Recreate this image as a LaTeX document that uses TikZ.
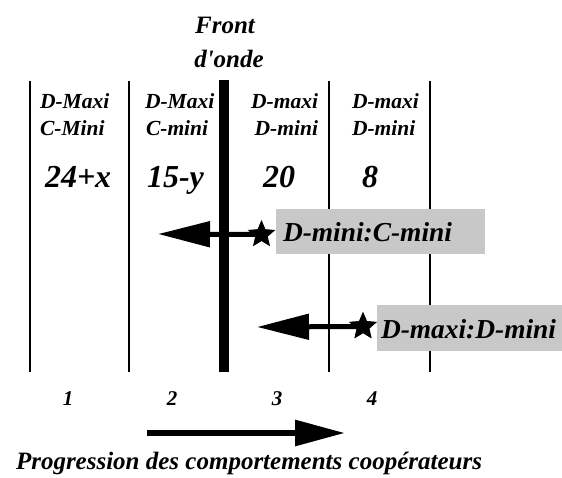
\documentclass[tikz,border=0pt]{standalone}
\usepackage{fontspec}
\setmainfont{Liberation Serif}[Ligatures=TeXOff]
\usetikzlibrary{arrows.meta,shapes.geometric}
\definecolor{boxgray}{RGB}{200,200,200}
\begin{document}
\begin{tikzpicture}[x=1pt,y=-1pt,
  every node/.style={inner sep=0pt, outer sep=0pt},
  bi/.style={font=\fontsize{#1}{#1}\selectfont\bfseries\itshape},
  hd/.style={bi=21.5},
  num/.style={bi=32},
  idx/.style={bi=21},
  ttl/.style={bi=25},
  lbl/.style={bi=27.4},
  sepline/.style={line width=1.6pt},
  frontline/.style={line width=10pt},
  greybox/.style={fill=boxgray, draw=none, anchor=north west},
  starmark/.style={star, star points=5, star point ratio=2.2, fill=black, draw=none},
  harrow/.style={line width=5pt, -{Triangle[length=52pt,width=25pt]}},
  progarrow/.style={line width=6pt, -{Triangle[length=50pt,width=25pt]}}
]
\useasboundingbox (0,0) rectangle (562,478);

% column separators
\draw[sepline] (30,81) -- (30,372);
\draw[sepline] (129,81) -- (129,372);
\draw[sepline] (329,81) -- (329,372);
\draw[sepline] (430,81) -- (430,372);
\draw[frontline] (224,80) -- (224,372);

% wave front title
\node[ttl, anchor=base] (front) at (225,34) {Front};
\node[ttl, anchor=base] (onde) at (229,68) {d'onde};

% column headings
\node[hd, anchor=base west] (h1a) at (40,109) {D-Maxi};
\node[hd, anchor=base west] (h1b) at (40,136) {C-Mini};
\node[hd, anchor=base west] (h2a) at (145,109) {D-Maxi};
\node[hd, anchor=base west] (h2b) at (146,136) {C-mini};
\node[hd, anchor=base east] (h3a) at (318,109) {D-maxi};
\node[hd, anchor=base east] (h3b) at (318,136) {D-mini};
\node[hd, anchor=base west] (h4a) at (352,109) {D-maxi};
\node[hd, anchor=base west] (h4b) at (352,136) {D-mini};

% counts
\node[num, anchor=base west] (n1) at (45,188) {24+x};
\node[num, anchor=base west] (n2) at (147,188) {15-y};
\node[num, anchor=base] (n3) at (279,188) {20};
\node[num, anchor=base] (n4) at (370,188) {8};

% grey boxes and labels
\node[greybox, minimum width=209pt, minimum height=45pt] (b1) at (276,209) {};
\node[lbl, anchor=base west] (l1) at (283,242) {D-mini:C-mini};
\node[greybox, minimum width=185pt, minimum height=46pt] (b2) at (377,305) {};
\node[lbl, anchor=base west] (l2) at (381,338) {D-maxi:D-mini};

% arrows with stars
\coordinate (t1) at (158,234);
\node[starmark, minimum size=26pt] (s1) at (261.5,234.5) {};
\draw[harrow] (s1.center) -- (t1);
\node[starmark, minimum size=29pt] (s1b) at (261.5,234.5) {};

\coordinate (t2) at (257,327);
\node[starmark, minimum size=29pt] (s2) at (363,326.5) {};
\draw[harrow] (s2.center) -- (t2);
\node[starmark, minimum size=29pt] (s2b) at (363,326.5) {};

% column indices
\node[idx, anchor=base] (i1) at (68,405) {1};
\node[idx, anchor=base] (i2) at (172,405) {2};
\node[idx, anchor=base] (i3) at (277,405) {3};
\node[idx, anchor=base] (i4) at (372,405) {4};

% progression arrow
\coordinate (p0) at (147,433);
\coordinate (p1) at (345,433);
\draw[progarrow] (p0) -- (p1);
\node[ttl, anchor=base] (prog) at (249,469) {Progression des comportements coopérateurs};
\end{tikzpicture}
\end{document}
